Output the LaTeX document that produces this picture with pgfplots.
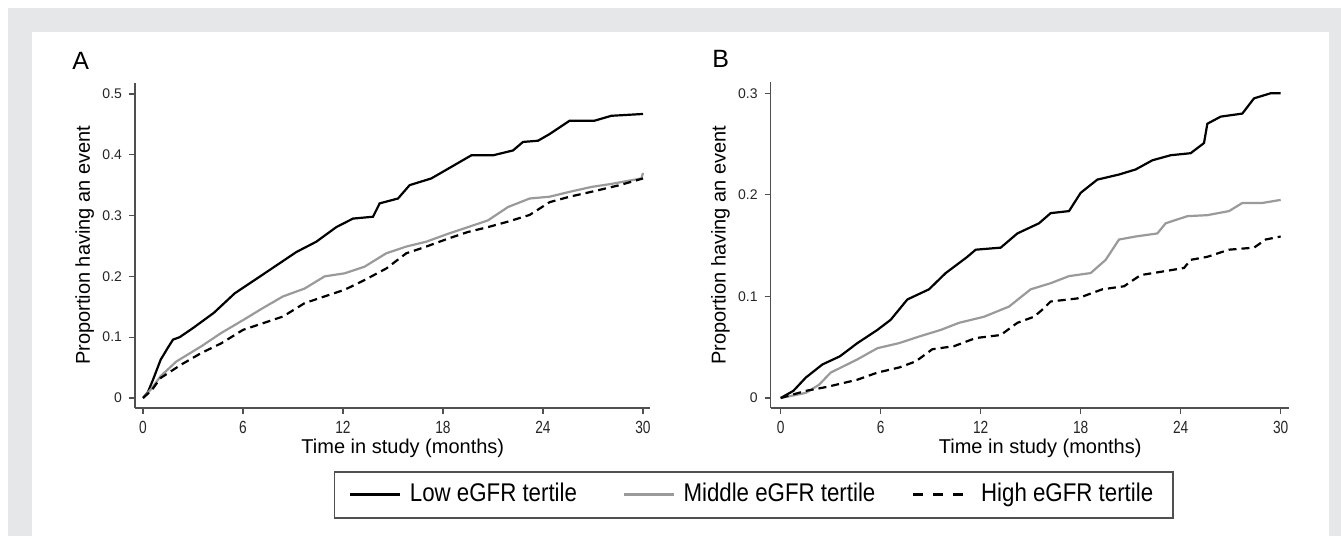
\documentclass[border=0pt]{standalone}
\usepackage{fontspec}
\setmainfont{Liberation Sans}
\newfontfamily\narrowfont{Liberation Sans}[FakeStretch=0.78]
\newfontfamily\legfont{Liberation Sans}[FakeStretch=0.87]
\usepackage{pgfplots}
\pgfplotsset{compat=1.18}
\usepackage{pgfplotstable}
\definecolor{framegray}{HTML}{E6E7E8}
\definecolor{midgray}{HTML}{9A9A9A}
\definecolor{axgray}{HTML}{505050}

\pgfplotstableread{
x y
0 0
0.3 0.01
0.6 0.03
1.06 0.063
1.5 0.083
1.8 0.096
2.2 0.100
3.0 0.115
4.25 0.140
5.5 0.172
6.7 0.194
7.9 0.216
9.2 0.240
10.4 0.257
11.6 0.281
12.6 0.295
13.8 0.298
14.2 0.320
15.3 0.328
16.0 0.350
17.3 0.361
18.5 0.380
19.7 0.399
21.0 0.399
22.2 0.407
22.8 0.421
23.7 0.423
24.4 0.434
25.6 0.456
27.1 0.456
28.1 0.464
30 0.467
}\AlowT
\pgfplotstableread{
x y
0 0
0.5 0.015
1.06 0.036
2.0 0.060
3.5 0.085
4.7 0.107
6.0 0.128
7.2 0.148
8.4 0.167
9.7 0.180
10.9 0.200
12.1 0.205
13.3 0.216
14.6 0.238
15.8 0.249
17.0 0.257
18.3 0.270
19.5 0.281
20.7 0.292
21.9 0.314
23.2 0.328
24.4 0.331
25.6 0.339
26.9 0.347
28.1 0.352
29.9 0.361
30 0.370
}\AmidT
\pgfplotstableread{
x y
0 0
0.5 0.012
1.06 0.033
2.3 0.055
3.5 0.074
4.7 0.090
6.0 0.112
7.2 0.123
8.4 0.134
9.7 0.156
10.9 0.167
12.1 0.178
13.3 0.194
14.6 0.213
15.8 0.238
17.0 0.249
18.3 0.262
19.5 0.273
20.7 0.281
21.9 0.290
23.2 0.301
24.4 0.322
25.6 0.331
26.9 0.339
28.6 0.350
30 0.361
}\AhighT
\pgfplotstableread{
x y
0 0
0.76 0.007
1.5 0.020
2.5 0.033
3.55 0.041
4.6 0.054
5.8 0.067
6.6 0.077
7.6 0.097
8.9 0.107
9.9 0.123
11.2 0.139
11.7 0.146
13.2 0.148
14.2 0.162
15.5 0.172
16.2 0.182
17.3 0.184
18.0 0.202
19.0 0.215
20.3 0.220
21.3 0.225
22.3 0.234
23.4 0.239
24.6 0.241
25.4 0.251
25.6 0.270
26.4 0.277
27.7 0.280
28.4 0.295
29.4 0.300
30 0.300
}\BlowT
\pgfplotstableread{
x y
0 0
1.5 0.005
2.3 0.013
3.0 0.025
4.6 0.038
5.8 0.049
7.1 0.054
8.4 0.061
9.6 0.067
10.7 0.074
12.2 0.080
13.7 0.090
15.0 0.107
16.2 0.113
17.3 0.120
18.6 0.123
19.5 0.136
20.3 0.156
21.3 0.159
22.6 0.162
23.1 0.172
24.4 0.179
25.6 0.180
26.9 0.184
27.7 0.192
28.9 0.192
30 0.195
}\BmidT
\pgfplotstableread{
x y
0 0
1.5 0.007
2.8 0.011
4.6 0.018
5.8 0.025
7.1 0.030
8.1 0.036
9.1 0.048
10.4 0.051
11.7 0.059
13.2 0.062
14.2 0.074
15.2 0.080
15.7 0.087
16.2 0.095
17.8 0.098
19.3 0.107
20.6 0.110
21.6 0.121
23.1 0.125
24.2 0.128
24.6 0.136
25.6 0.139
26.9 0.146
28.4 0.148
29.1 0.156
30 0.159
}\BhighT

\pgfplotsset{
  kmstyle/.style={
    scale only axis,
    axis x line*=bottom, axis y line*=left,
    axis line style={draw=axgray, line width=0.75pt},
    tick style={draw=axgray, line width=0.6pt},
    tick align=outside, major tick length=3pt,
    xtick={0,6,12,18,24,30},
    /pgf/number format/assume math mode=true,
    xticklabel style={font=\narrowfont\fontsize{8.8}{10}\selectfont, text=black!85},
    yticklabel style={font=\fontsize{7}{8}\selectfont, text=black!85},
    xlabel={Time in study (months)},
    ylabel={Proportion having an event},
    label style={font=\fontsize{10}{12}\selectfont},
    xlabel style={at={(axis description cs:0.52,-0.1405)}, anchor=base},
    clip=false,
  },
  lowS/.style={black, line width=1.1pt},
  midS/.style={midgray, line width=1.1pt},
  highS/.style={black, line width=1.1pt, dash pattern=on 4pt off 2.5pt},
}

\begin{document}
\begin{tikzpicture}
\fill[white] (0,0) rectangle (670.5pt,268pt);
\fill[framegray] (4pt,0pt) rectangle (670.5pt,264pt);
\fill[white] (16pt,0pt) rectangle (664.5pt,252pt);
\useasboundingbox (0,0) rectangle (670.5pt,268pt);

\node[anchor=base west, font=\fontsize{12.5}{14}\selectfont, inner sep=0pt] at (36pt,233pt) {A};
\node[anchor=base west, font=\fontsize{12.5}{14}\selectfont, inner sep=0pt] at (356pt,234pt) {B};

\begin{axis}[kmstyle,
  at={(67.5pt,64pt)}, anchor=south west,
  width=257.5pt, height=162.65pt,
  xmin=-0.48, xmax=30.42, ymin=-0.01645, ymax=0.5186,
  ytick={0,0.1,0.2,0.3,0.4,0.5},
  yticklabels={0,0.1,0.2,0.3,0.4,0.5},
  ylabel style={at={(axis description cs:-0.0874,0.5)}, anchor=base},
  legend columns=3,
  legend style={at={(axis description cs:0.3864,-0.1937)}, anchor=north west,
    draw=axgray, line width=0.75pt, font=\legfont\fontsize{12.8}{14}\selectfont,
    inner xsep=0pt, inner ysep=5.5pt, column sep=0pt,
    nodes={inner sep=0pt, text height=9.3pt, text depth=2.7pt}},
]
\addplot[lowS, legend image code/.code={\path (-7pt,0pt); \draw[black, line width=1.5pt] (0pt,0pt) -- (25pt,0pt); \path (29.5pt,0pt);}] table[x=x,y=y] {\AlowT};
\addlegendentry{\makebox[106.5pt][l]{Low eGFR tertile}}
\addplot[midS, legend image code/.code={\draw[midgray, line width=1.5pt] (0pt,0pt) -- (25pt,0pt); \path (29pt,0pt);}] table[x=x,y=y] {\AmidT};
\addlegendentry{\makebox[114pt][l]{Middle eGFR tertile}}
\addplot[highS, legend image code/.code={\draw[black, line width=1.5pt, dash pattern=on 5pt off 5pt] (0pt,0pt) -- (25pt,0pt); \path (33.5pt,0pt);}] table[x=x,y=y] {\AhighT};
\addlegendentry{\makebox[96pt][l]{High eGFR tertile}}
\end{axis}

\begin{axis}[kmstyle,
  at={(385.35pt,64pt)}, anchor=south west,
  width=259.15pt, height=162.85pt,
  xmin=-0.6, xmax=30.5, ymin=-0.00985, ymax=0.3108,
  ytick={0,0.1,0.2,0.3},
  yticklabels={0,0.1,0.2,0.3},
  ylabel style={at={(axis description cs:-0.0868,0.5)}, anchor=base},
]
\addplot[lowS] table[x=x,y=y] {\BlowT};
\addplot[midS] table[x=x,y=y] {\BmidT};
\addplot[highS] table[x=x,y=y] {\BhighT};
\end{axis}
\end{tikzpicture}
\end{document}
